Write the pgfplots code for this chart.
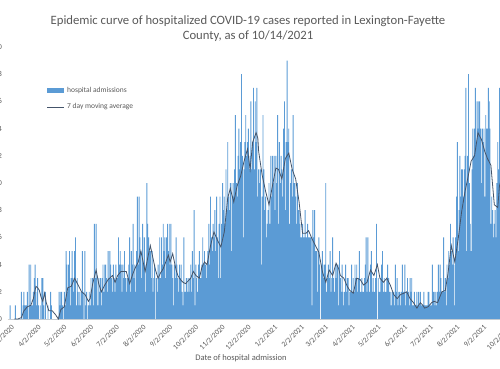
\documentclass[border=0pt]{standalone}
\usepackage{pgfplots}
\pgfplotsset{compat=1.18}
\usepackage{fontspec}
\setmainfont{Carlito}
\definecolor{barblue}{HTML}{5B9BD5}
\definecolor{maline}{HTML}{44546A}
\definecolor{txt}{HTML}{595959}
\begin{document}
\begin{tikzpicture}[x=1pt,y=1pt]
\path[use as bounding box] (-7.56,-49) rectangle (492.44,319);
\clip (-7.56,-49) rectangle (492.44,319);
\begin{axis}[
 at={(0,0)}, anchor=south west,
 scale only axis, width=519.44pt, height=272pt,
 xmin=-4, xmax=600, ymin=0, ymax=20,
 axis x line=bottom, axis y line=left,
 axis line style={-},
 x axis line style={draw=gray!35, line width=0.8pt},
 y axis line style={draw=none},
 major tick length=0pt,
 ytick={0,2,...,20},
 xtick={0,31,61,92,122,153,184,214,245,275,306,337,365,396,426,457,487,518,549,579},
 xticklabels={3/2/2020,4/2/2020,5/2/2020,6/2/2020,7/2/2020,8/2/2020,9/2/2020,10/2/2020,11/2/2020,12/2/2020,1/2/2021,2/2/2021,3/2/2021,4/2/2021,5/2/2021,6/2/2021,7/2/2021,8/2/2021,9/2/2021,10/2/2021},
 ticklabel style={font=\fontsize{7.5}{9}\selectfont, text=txt},
 xticklabel style={rotate=45, anchor=north east},
 yticklabel style={xshift=-2.2pt},
 /pgf/number format/assume math mode=true,
]
\addplot[ybar, bar width=1.08, fill=barblue, draw=none] coordinates {
(-1,1)(0,0)(1,0)(2,0)(3,0)(4,0)(5,1)(6,0)(7,0)(8,0)(9,0)
(10,0)(11,0)(12,2)(13,0)(14,1)(15,2)(16,1)(17,1)(18,1)(19,2)
(20,0)(21,4)(22,1)(23,4)(24,1)(25,1)(26,2)(27,3)(28,4)(29,2)
(30,1)(31,3)(32,1)(33,0)(34,1)(35,0)(36,3)(37,3)(38,1)(39,0)
(40,2)(41,0)(42,0)(43,1)(44,0)(45,0)(46,2)(47,1)(48,0)(49,0)
(50,0)(51,0)(52,0)(53,0)(54,0)(55,0)(56,2)(57,1)(58,2)(59,2)
(60,1)(61,0)(62,2)(63,1)(64,5)(65,4)(66,2)(67,4)(68,5)(69,1)
(70,3)(71,5)(72,3)(73,2)(74,5)(75,6)(76,1)(77,3)(78,2)(79,1)
(80,2)(81,1)(82,2)(83,5)(84,2)(85,0)(86,5)(87,1)(88,2)(89,0)
(90,1)(91,2)(92,1)(93,3)(94,2)(95,3)(96,1)(97,7)(98,3)(99,7)
(100,3)(101,1)(102,3)(103,2)(104,3)(105,1)(106,3)(107,4)(108,2)(109,4)
(110,4)(111,3)(112,2)(113,5)(114,3)(115,5)(116,4)(117,3)(118,2)(119,4)
(120,3)(121,2)(122,4)(123,3)(124,3)(125,6)(126,4)(127,5)(128,4)(129,2)
(130,4)(131,3)(132,5)(133,3)(134,2)(135,3)(136,3)(137,4)(138,6)(139,2)
(140,5)(141,4)(142,7)(143,3)(144,4)(145,2)(146,5)(147,9)(148,4)(149,9)
(150,6)(151,5)(152,3)(153,7)(154,4)(155,6)(156,2)(157,4)(158,10)(159,7)
(160,6)(161,5)(162,5)(163,3)(164,5)(165,2)(166,3)(167,4)(168,0)(169,3)
(170,2)(171,4)(172,3)(173,6)(174,3)(175,6)(176,4)(177,7)(178,5)(179,6)
(180,3)(181,6)(182,7)(183,5)(184,7)(185,4)
(186,7)(187,4)(188,3)(189,1)(190,4)(191,3)(192,6)(193,4)(194,3)(195,2)
(196,4)(197,3)(198,4)(199,2)(200,1)(201,6)(202,2)(203,2)(204,3)(205,2)
(206,3)(207,2)(208,3)(209,4)(210,2)(211,5)(212,3)(213,8)(214,1)(215,4)
(216,3)(217,2)(218,4)(219,5)(220,3)(221,3)(222,4)(223,6)(224,4)(225,5)
(226,4)(227,3)(228,4)(229,5)(230,7)(231,4)(232,9)(233,6)(234,5)(235,7)
(236,6)(237,8)(238,5)(239,9)(240,6)(241,3)(242,7)(243,9)(244,3)(245,7)
(246,10)(247,8)(248,9)(249,7)(250,11)(251,8)(252,13)(253,9)(254,8)(255,10)
(256,5)(257,10)(258,9)(259,10)(260,11)(261,15)(262,10)(263,9)(264,12)(265,14)
(266,11)(267,13)(268,18)(269,12)(270,6)(271,11)(272,13)(273,15)(274,12)(275,13)
(276,14)(277,11)(278,12)(279,16)(280,11)(281,13)(282,17)(283,11)(284,16)(285,13)
(286,17)(287,9)(288,11)(289,10)(290,11)(291,4)(292,9)(293,15)(294,11)(295,8)
(296,9)(297,6)(298,7)(299,8)(300,10)(301,7)(302,12)(303,9)(304,12)(305,10)
(306,12)(307,8)(308,12)(309,10)(310,15)(311,7)(312,13)(313,10)(314,12)(315,11)
(316,9)(317,14)(318,16)(319,8)(320,13)(321,19)(322,13)(323,14)(324,7)(325,10)
(326,11)(327,9)(328,15)(329,10)(330,10)(331,9)(332,7)(333,10)(334,8)(335,8)
(336,7)(337,6)(338,6)(339,7)(340,6)(341,6)(342,8)(343,6)(344,6)(345,7)
(346,6)(347,6)(348,6)(349,6)(350,1)(351,8)(352,6)(353,8)(354,5)(355,5)
(356,2)(357,5)(358,6)(359,4)(360,0)(361,4)(362,5)(363,3)(364,4)(365,4)
(366,10)(367,2)(368,3)(369,4)(370,3)(371,5)(372,2)(373,3)(374,6)(375,3)
(376,2)(377,4)(378,3)(379,4)(380,4)(381,1)
(382,5)(383,3)(384,2)(385,4)(386,2)(387,1)(388,2)(389,4)(390,2)(391,3)
(392,3)(393,1)(394,2)(395,2)(396,4)(397,2)(398,3)(399,2)(400,4)(401,3)
(402,4)(403,2)(404,3)(405,5)(406,2)(407,2)(408,3)(409,2)(410,2)(411,3)
(412,4)(413,6)(414,2)(415,6)(416,3)(417,2)(418,4)(419,5)(420,2)(421,3)
(422,2)(423,2)(424,3)(425,7)(426,0)(427,3)(428,2)(429,2)(430,3)(431,4)
(432,5)(433,2)(434,3)(435,2)(436,2)(437,3)(438,4)(439,3)(440,2)(441,2)
(442,1)(443,2)(444,2)(445,2)(446,1)(447,4)(448,2)(449,3)(450,1)(451,2)
(452,2)(453,1)(454,2)(455,4)(456,2)(457,2)(458,4)(459,1)(460,2)(461,3)
(462,2)(463,1)(464,3)(465,2)(466,3)(467,1)(468,1)(469,2)(470,1)(471,1)
(472,2)(473,1)(474,2)(475,1)(476,2)(477,1)(478,1)
(479,1)(480,2)(481,1)(482,1)(483,1)(484,1)(485,2)(486,2)(487,1)(488,1)
(489,1)(490,4)(491,2)(492,2)(493,1)(494,2)(495,1)(496,2)(497,4)(498,2)
(499,4)(500,3)(501,2)(502,2)(503,6)(504,2)(505,3)(506,1)(507,4)(508,3)
(509,5)(510,4)(511,7)(512,5)(513,4)(514,6)(515,4)(516,1)(517,6)(518,9)
(519,13)(520,5)(521,8)(522,12)(523,9)(524,11)(525,11)(526,9)(527,11)(528,12)
(529,17)(530,5)(531,12)(532,18)(533,10)(534,7)(535,5)(536,11)(537,14)(538,12)
(539,14)(540,17)(541,13)(542,16)(543,14)(544,16)(545,16)(546,14)(547,10)(548,14)
(549,13)(550,14)(551,9)(552,15)(553,14)(554,14)(555,17)(556,16)(557,14)(558,7)
(559,9)(560,8)(561,6)(562,7)(563,8)(564,6)(565,10)(566,13)(567,11)(568,17)
(569,12)(570,13)(571,15)(572,11)(573,12)
};
\addplot[sharp plot, color=maline, line width=0.8pt] coordinates {
(4,0)(8,0)(12,0.1)(15,0.6)(19,0.9)(23,1.0)(26,1.5)(29,2.4)(31,2.3)(33,2.1)(35,1.6)(37,1.3)(39,1.9)(41,1.2)(44,0.6)(48,0.6)(52,0.3)(55,0.0)(58,0.7)(62,0.9)(66,2.3)(70,2.4)(74,3.0)(78,2.5)(82,2.0)(86,1.8)(90,1.3)
(92,1.5)(95,2.6)(99,3.6)(102,2.6)(105,2.0)(109,2.5)(113,2.9)(118,3.2)(121,2.7)(124,3.2)(128,3.5)(134,3.5)(138,2.6)(141,3.2)(144,3.7)(148,4.2)(151,5.0)(153,4.4)(156,3.5)(159,4.5)(162,5.4)(165,4.5)(168,3.6)(171,3.0)(174,3.4)(177,3.7)(180,4.2)(183,4.7)(185,4.2)(188,4.8)
(190,4.2)(192,3.6)(194,3.2)(197,2.9)(200,2.7)(203,2.6)(206,2.8)(209,3.0)(212,3.5)(215,3.2)(219,3.0)(222,3.8)(225,4.2)(228,4.0)(232,5.4)(236,6.4)(240,5.8)(244,5.3)(248,6.4)(252,8.9)(255,9.6)(259,8.6)(263,9.8)(267,10.5)(271,11.6)(275,12.5)(278,11.0)(281,13.0)(285,13.7)
(287,13.3)(288,12.3)(292,10.6)(296,9.4)(300,8.4)(304,9.8)(308,11.1)(311,11.0)(315,10.3)(319,11.8)(323,12.2)(327,11.0)(331,10.3)(335,8.6)(339,6.3)(343,6.3)(346,6.5)(350,5.9)(354,5.4)(358,4.9)(362,3.5)(366,2.7)(370,3.6)(374,3.2)(378,4.1)
(381,3.7)(383,3.2)(387,3.0)(391,2.4)(394,2.1)(398,1.9)(402,3.0)(406,2.9)(410,2.5)(414,2.7)(418,3.6)(422,3.2)(426,4.0)(429,3.0)(433,2.7)(437,3.0)(441,2.5)(445,1.8)(449,1.5)(453,1.8)(457,1.9)(460,2.0)(464,1.5)(468,1.2)(472,0.8)(476,1.2)
(479,1.0)(481,0.8)(485,0.9)(489,1.2)(492,1.3)(496,1.2)(501,2.0)(505,2.1)(508,3.3)(512,5.4)(516,4.2)(520,5.9)(524,7.9)(528,9.4)(531,10.3)(535,11.6)(539,12.0)(543,13.7)(547,13.2)(551,12.3)(554,11.8)(558,11.3)(562,8.4)(566,8.2)(568,9.8)(571,10.5)
};
\end{axis}
\node[font=\fontsize{12.7}{15}\selectfont, text=txt] at (240.44,298) {Epidemic curve of hospitalized COVID-19 cases reported in Lexington-Fayette};
\node[font=\fontsize{12.7}{15}\selectfont, text=txt] at (240.44,283) {County, as of 10/14/2021};
\node[font=\fontsize{8.5}{10}\selectfont, text=txt] at (233.44,-39) {Date of hospital admission};
\fill[barblue] (39.44,226.5) rectangle (56.44,231.5);
\node[font=\fontsize{7.5}{9}\selectfont, text=txt, anchor=west, inner sep=0pt] at (59.44,229) {hospital admissions};
\draw[maline, line width=0.8pt] (39.44,212) -- (56.44,212);
\node[font=\fontsize{7.5}{9}\selectfont, text=txt, anchor=west, inner sep=0pt] at (59.44,212) {7 day moving average};
\end{tikzpicture}
\end{document}
